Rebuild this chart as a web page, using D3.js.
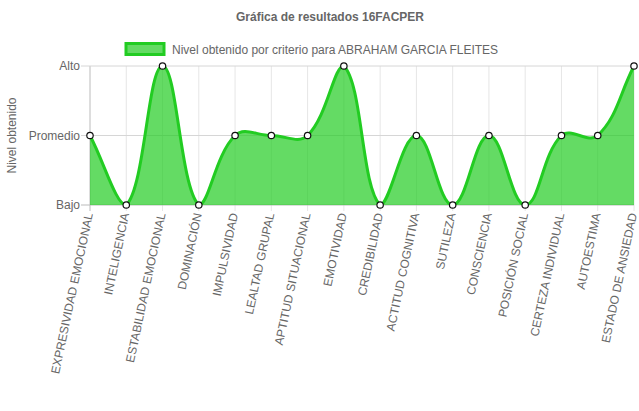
<!DOCTYPE html>
<html><head><meta charset="utf-8">
<script src="https://cdn.jsdelivr.net/npm/d3@7"></script>
<style>body{margin:0;background:#fff}svg{display:block;font-family:Arial,"Liberation Sans",Helvetica,sans-serif}</style>
</head><body><svg id="c" width="639" height="411"></svg>
<script>
const categories = ["EXPRESIVIDAD EMOCIONAL","INTELIGENCIA","ESTABILIDAD EMOCIONAL","DOMINACIÓN","IMPULSIVIDAD","LEALTAD GRUPAL","APTITUD SITUACIONAL","EMOTIVIDAD","CREDIBILIDAD","ACTITUD COGNITIVA","SUTILEZA","CONSCIENCIA","POSICIÓN SOCIAL","CERTEZA INDIVIDUAL","AUTOESTIMA","ESTADO DE ANSIEDAD"];
const values = [2,1,3,1,2,2,2,3,1,2,1,2,1,2,2,3];
const levelTicks = [1,2,3];
const levelLabels = ["Bajo","Promedio","Alto"];
const title = "Gráfica de resultados 16FACPER";
const seriesName = "Nivel obtenido por criterio para ABRAHAM GARCIA FLEITES";
const yTitle = "Nivel obtenido";

const svg = d3.select("#c");
const L = 90, R = 634, T = 66, B = 205;
const x = d3.scalePoint().domain(categories).range([L, R]);
const y = d3.scaleLinear().domain([1,3]).range([B, T]);
const txt = "#666";

svg.append("text").attr("x", 330).attr("y", 21).attr("text-anchor","middle")
  .attr("font-size", 12).attr("font-weight","bold").attr("fill", txt).text(title);
svg.append("rect").attr("x", 126).attr("y", 43.5).attr("width", 38).attr("height", 11)
  .attr("fill","rgba(34,204,34,0.7)").attr("stroke","#22cc22").attr("stroke-width",3);
svg.append("text").attr("x", 172).attr("y", 53.5).attr("font-size",12).attr("fill",txt).text(seriesName);

const g = svg.append("g");
categories.forEach(c => {
  g.append("line").attr("x1",x(c)).attr("x2",x(c)).attr("y1",T).attr("y2",B+6)
   .attr("stroke", c===categories[0] ? "#bbb" : "#e6e6e6").attr("stroke-width",1);
});
levelTicks.forEach(v => {
  g.append("line").attr("x1",L-9).attr("x2",R).attr("y1",y(v)).attr("y2",y(v))
   .attr("stroke", v===1 ? "#bbb" : "#d6d6d6").attr("stroke-width",1);
  g.append("text").attr("x",L-10).attr("y",y(v)+4).attr("text-anchor","end")
   .attr("font-size",12).attr("fill",txt).text(levelLabels[v-1]);
});
svg.append("text").attr("transform",`translate(16,${(T+B)/2}) rotate(-90)`).attr("text-anchor","middle")
  .attr("font-size",12).attr("fill",txt).text(yTitle);

categories.forEach(c => {
  svg.append("text").attr("transform",`translate(${x(c)+3},${B+9}) rotate(-78)`)
   .attr("text-anchor","end").attr("font-size",12).attr("fill",txt).text(c);
});

const pts = values.map((v,i)=>({x:x(categories[i]), y:y(v)}));
const t = 0.4;
const cps = pts.map((p,i)=>{
  const pr = pts[i-1]||p, nx = pts[i+1]||p;
  const d01 = Math.hypot(p.x-pr.x,p.y-pr.y), d12 = Math.hypot(nx.x-p.x,nx.y-p.y);
  let s01 = d01/(d01+d12), s12 = d12/(d01+d12);
  if(isNaN(s01)) s01=0; if(isNaN(s12)) s12=0;
  const fa=t*s01, fb=t*s12;
  const clamp = v=>Math.max(T,Math.min(B,v));
  return {px: p.x - fa*(nx.x-pr.x), py: clamp(p.y - fa*(nx.y-pr.y)),
          nx: p.x + fb*(nx.x-pr.x), ny: clamp(p.y + fb*(nx.y-pr.y))};
});
function linePath(){
  const pth = d3.path();
  pth.moveTo(pts[0].x, pts[0].y);
  for(let i=1;i<pts.length;i++){
    pth.bezierCurveTo(cps[i-1].nx,cps[i-1].ny,cps[i].px,cps[i].py,pts[i].x,pts[i].y);
  }
  return pth.toString();
}
const lp = linePath();
svg.append("path").attr("d", lp + `L${R},${B}L${L},${B}Z`).attr("fill","rgba(34,204,34,0.7)");
svg.append("path").attr("d", lp).attr("fill","none").attr("stroke","#22cc22").attr("stroke-width",3);
svg.selectAll("circle.p").data(pts).enter().append("circle")
  .attr("cx",d=>d.x).attr("cy",d=>d.y).attr("r",3.2)
  .attr("fill","#fff").attr("stroke","#111").attr("stroke-width",1.2);
</script></body></html>
